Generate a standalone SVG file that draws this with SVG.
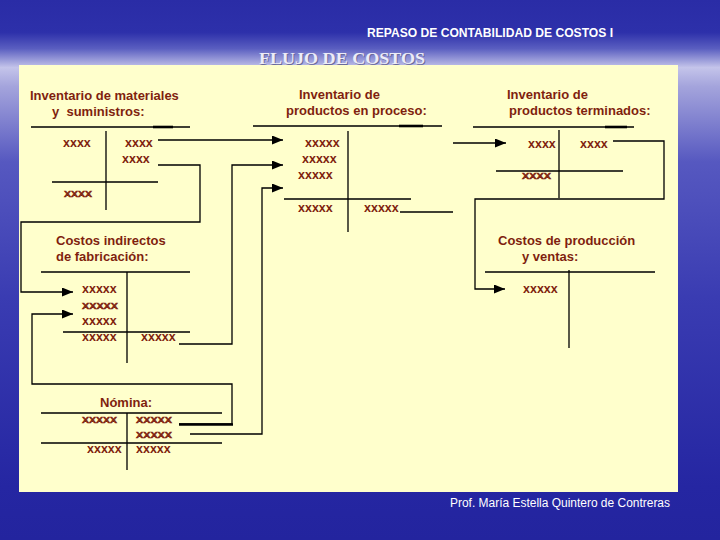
<svg xmlns="http://www.w3.org/2000/svg" width="720" height="540" viewBox="0 0 720 540">
<defs>
<linearGradient id="bg" x1="0" y1="0" x2="0" y2="1">
<stop offset="0" stop-color="#2a2ca6"/>
<stop offset="0.06" stop-color="#2d30aa"/>
<stop offset="0.09" stop-color="#5a5ec0"/>
<stop offset="0.125" stop-color="#c4c4ea"/>
<stop offset="0.16" stop-color="#a4a4dc"/>
<stop offset="0.3" stop-color="#5658c0"/>
<stop offset="0.55" stop-color="#3a3cb2"/>
<stop offset="0.9" stop-color="#2526a2"/>
<stop offset="1" stop-color="#23249e"/>
</linearGradient>
<marker id="ah" markerWidth="11" markerHeight="9" refX="11" refY="4.5" orient="auto" markerUnits="userSpaceOnUse">
<path d="M0,0 L11,4.5 L0,9 z" fill="#000"/>
</marker>
<style>
.lbl{font-family:"Liberation Sans",Arial,sans-serif;font-weight:bold;font-size:13px;fill:#7f1f0f}
.x{font-family:"Liberation Sans",Arial,sans-serif;font-weight:bold;font-size:12.5px;fill:#7f1f0f}
.X{font-family:"Liberation Sans",Arial,sans-serif;font-weight:bold;font-size:9.8px;fill:#7f1f0f;stroke:#7f1f0f;stroke-width:0.5}
.ln{stroke:#000;stroke-width:1.3;fill:none}
.tk{stroke:#000;stroke-width:2.6;fill:none}
.cn{stroke:#000;stroke-width:1.3;fill:none}
</style>
</defs>
<rect x="0" y="0" width="720" height="540" fill="url(#bg)"/>
<text x="367" y="37" font-family="'Liberation Sans Narrow','Liberation Sans',Arial,sans-serif" font-weight="bold" font-size="12.5" fill="#ffffff" textLength="246" lengthAdjust="spacingAndGlyphs">REPASO DE CONTABILIDAD DE COSTOS I</text>
<text x="260" y="65" font-family="'Liberation Serif','Times New Roman',serif" font-weight="bold" font-size="16.5" fill="#6a6a9a" textLength="166" lengthAdjust="spacingAndGlyphs">FLUJO DE COSTOS</text>
<text x="259" y="64" font-family="'Liberation Serif','Times New Roman',serif" font-weight="bold" font-size="16.5" fill="#ececf8" textLength="166" lengthAdjust="spacingAndGlyphs">FLUJO DE COSTOS</text>
<rect x="19" y="65" width="659" height="427" fill="#ffffcc"/>
<text x="450" y="507" font-family="'Liberation Sans',Arial,sans-serif" font-size="12" fill="#ffffff" textLength="220" lengthAdjust="spacingAndGlyphs">Prof. María Estella Quintero de Contreras</text>

<g id="inv-materiales">
<text class="lbl" x="30" y="100">Inventario de materiales</text>
<text class="lbl" x="52" y="116" xml:space="preserve">y  suministros:</text>
<path class="ln" d="M31,127 H190 M106,131 V210 M52,182 H158"/>
<path class="tk" d="M153,127 H173"/>
<text class="x" x="63" y="147">xxxx</text>
<text class="x" x="125" y="147">xxxx</text>
<text class="x" x="122" y="163">xxxx</text>
<text class="X" x="64" y="197" textLength="28" lengthAdjust="spacingAndGlyphs">XXXX</text>
</g>

<g id="inv-proceso">
<text class="lbl" x="299" y="99">Inventario de</text>
<text class="lbl" x="286" y="115">productos en proceso:</text>
<path class="ln" d="M253,126 H442 M348,131 V232 M284,199 H411"/>
<path class="tk" d="M399,126 H423"/>
<text class="x" x="305" y="147">xxxxx</text>
<text class="x" x="302" y="163">xxxxx</text>
<text class="x" x="298" y="179">xxxxx</text>
<text class="x" x="298" y="212">xxxxx</text>
<text class="x" x="364" y="212">xxxxx</text>
</g>

<g id="inv-terminados">
<text class="lbl" x="507" y="99">Inventario de</text>
<text class="lbl" x="509" y="115">productos terminados:</text>
<path class="ln" d="M473,127 H634 M559,130 V198 M496,171 H623"/>
<path class="tk" d="M605,127 H627"/>
<text class="x" x="528" y="148">xxxx</text>
<text class="x" x="580" y="148">xxxx</text>
<text class="X" x="522" y="179" textLength="29" lengthAdjust="spacingAndGlyphs">XXXX</text>
</g>

<g id="cif">
<text class="lbl" x="56" y="245">Costos indirectos</text>
<text class="lbl" x="56" y="261">de fabricación:</text>
<path class="ln" d="M41,272 H190 M127,272 V363 M63,332 H190"/>
<text class="x" x="82" y="293">xxxxx</text>
<text class="X" x="82" y="309" textLength="36" lengthAdjust="spacingAndGlyphs">XXXXX</text>
<text class="x" x="82" y="325">xxxxx</text>
<text class="x" x="82" y="341">xxxxx</text>
<text class="x" x="141" y="341">xxxxx</text>
</g>

<g id="costos-produccion-ventas">
<text class="lbl" x="498" y="245">Costos de producción</text>
<text class="lbl" x="522" y="261">y ventas:</text>
<path class="ln" d="M485,272 H655 M569,270 V348"/>
<text class="x" x="523" y="293">xxxxx</text>
</g>

<g id="nomina">
<text class="lbl" x="100" y="407">Nómina:</text>
<path class="ln" d="M41,413 H222 M127,413 V470 M41,443 H222"/>
<text class="X" x="82" y="423" textLength="35" lengthAdjust="spacingAndGlyphs">XXXXX</text>
<text class="X" x="136" y="423" textLength="36" lengthAdjust="spacingAndGlyphs">XXXXX</text>
<text class="X" x="136" y="438" textLength="36" lengthAdjust="spacingAndGlyphs">XXXXX</text>
<text class="x" x="87" y="453">xxxxx</text>
<text class="x" x="136" y="453">xxxxx</text>
</g>

<g id="connectors">
<path class="cn" d="M158,140 H283" marker-end="url(#ah)"/>
<path class="cn" d="M158,165 H200 V222 H21 V292 H73" marker-end="url(#ah)"/>
<path class="cn" d="M179,344 H232 V165 H283" marker-end="url(#ah)"/>
<path class="cn" d="M190,434 H262 V188 H283" marker-end="url(#ah)"/>
<path class="cn" d="M179,424 H232 V384 H32 V314 H73" marker-end="url(#ah)"/>
<path class="tk" d="M179,424.5 H233"/>
<path class="cn" d="M400,212 H453"/>
<path class="cn" d="M453,143 H506" marker-end="url(#ah)"/>
<path class="cn" d="M613,141 H664 V199 H475 V289 H505" marker-end="url(#ah)"/>
</g>
</svg>
